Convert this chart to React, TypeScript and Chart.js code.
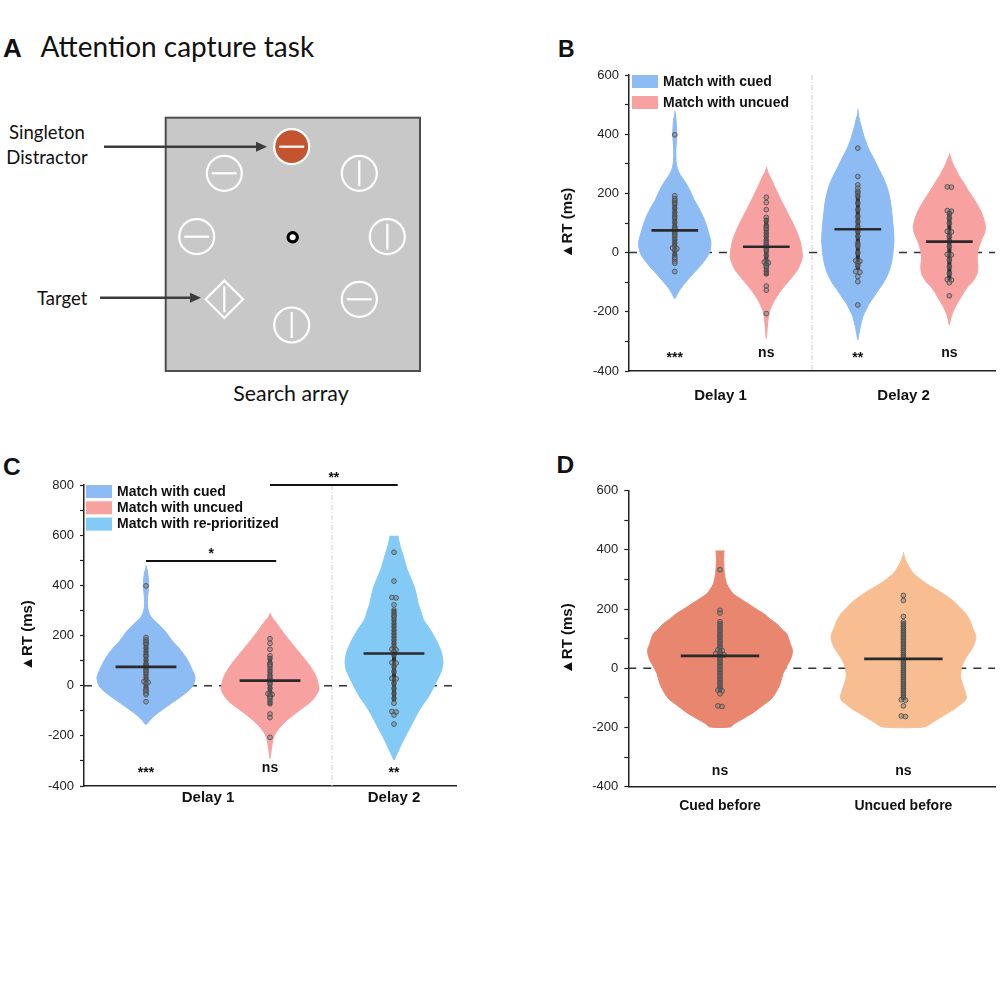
import React, { useEffect, useRef } from 'react';
import { Chart, registerables } from 'chart.js';

Chart.register(...registerables);

const FONT = "'Liberation Sans', Arial, 'DejaVu Sans', sans-serif";
const AXIS = '#222222';

// ---------------- data ----------------
const B_CATEGORIES = ['Delay 1', 'Delay 2'];
const C_CATEGORIES = ['Delay 1', 'Delay 2'];
const D_CATEGORIES = ['Cued before', 'Uncued before'];
const B_SERIES = ['Match with cued', 'Match with uncued'];
const C_SERIES = ['Match with cued', 'Match with uncued', 'Match with re-prioritized'];
const B_SIG = ['***', 'ns', '**', 'ns'];
const C_SIG = ['***', 'ns', '**'];
const D_SIG = ['ns', 'ns'];
const Y_TITLE = '\u25B2RT (ms)';

// C comparison brackets: [violin a, violin b, level (ms), label]
const C_BRACKETS: [number, number, number, string][] = [
  [0, 1, 497, '*'],
  [1, 2, 800, '**'],
];

// Delay 1, matched with cued
const CUED_D1_VALUES = [398, 192, 182, 176, 170, 163, 150, 136, 124, 116, 102, 88, 82, 77, 69, 62, 55, 45, 33, 22, 16, 13, 7, -8, -17, -22, -30, -36, -64];
const CUED_D1_SHAPE: [number, number][] = [[480, 0], [455, 0.03], [430, 0.045], [400, 0.055], [375, 0.045], [345, 0.03], [310, 0.035], [285, 0.07], [265, 0.14], [240, 0.28], [210, 0.42], [180, 0.53], [150, 0.67], [120, 0.79], [90, 0.88], [60, 0.95], [35, 1.0], [10, 0.98], [-10, 0.92], [-40, 0.74], [-70, 0.52], [-95, 0.34], [-120, 0.17], [-140, 0.07], [-155, 0]];
const CUED_D1_MEAN = 75;
const CUED_D1_RANGE: [number, number] = [-12, 178];

// Delay 1, matched with uncued
const UNCUED_D1_VALUES = [187, 169, 145, 119, 108, 91, 85, 77, 66, 55, 42, 34, 26, 20, 13, 5, -10, -28, -32, -35, -40, -45, -51, -62, -72, -113, -127, -206];
const UNCUED_D1_SHAPE: [number, number][] = [[290, 0], [270, 0.05], [250, 0.13], [212, 0.27], [167, 0.45], [122, 0.64], [77, 0.82], [32, 0.95], [0, 0.99], [-14, 1.0], [-35, 0.95], [-59, 0.86], [-93, 0.64], [-127, 0.41], [-160, 0.23], [-194, 0.1], [-220, 0.055], [-255, 0.025], [-290, 0]];
const UNCUED_D1_MEAN = 20;
const UNCUED_D1_RANGE: [number, number] = [-78, 118];

// Delay 2, matched with cued (B)
const CUED_D2_VALUES = [353, 257, 229, 218, 207, 201, 190, 167, 145, 122, 105, 88, 71, 55, 31, 22, -1, -27, -29, -36, -45, -64, -66, -81, -98, -177];
const CUED_D2_SHAPE: [number, number][] = [[485, 0], [460, 0.03], [437, 0.07], [410, 0.13], [381, 0.2], [350, 0.3], [325, 0.41], [295, 0.53], [268, 0.64], [240, 0.75], [212, 0.83], [180, 0.89], [156, 0.92], [99, 0.97], [43, 1.0], [-13, 0.96], [-45, 0.91], [-70, 0.84], [-100, 0.72], [-126, 0.57], [-150, 0.44], [-171, 0.32], [-195, 0.22], [-216, 0.14], [-250, 0.07], [-275, 0.03], [-295, 0]];
const CUED_D2_MEAN = 79;
const CUED_D2_RANGE: [number, number] = [-58, 210];

// Delay 2, matched with uncued (B)
const UNCUED_D2_VALUES = [221, 222, 142, 140, 131, 116, 99, 72, 70, 55, 38, 20, -6, -8, -25, -48, -70, -91, -93, -102, -146];
const UNCUED_D2_SHAPE: [number, number][] = [[336, 0], [320, 0.04], [302, 0.09], [280, 0.18], [257, 0.28], [235, 0.4], [212, 0.51], [190, 0.63], [167, 0.75], [145, 0.85], [122, 0.93], [100, 0.98], [88, 1.0], [70, 0.98], [54, 0.93], [37, 0.87], [20, 0.82], [-14, 0.77], [-48, 0.79], [-70, 0.77], [-81, 0.73], [-100, 0.63], [-115, 0.51], [-130, 0.42], [-149, 0.33], [-165, 0.25], [-182, 0.17], [-200, 0.1], [-216, 0.056], [-230, 0.025], [-245, 0]];
const UNCUED_D2_MEAN = 37;
const UNCUED_D2_RANGE: [number, number] = [-93, 142];

// Delay 2, matched with re-prioritized (C)
const REPRIO_VALUES = [532, 417, 352, 350, 322, 301, 290, 280, 274, 262, 248, 235, 221, 208, 195, 182, 168, 155, 145, 143, 136, 122, 92, 90, 76, 56, 29, 27, 9, -11, -31, -51, -70, -103, -105, -117, -153];
const REPRIO_SHAPE: [number, number][] = [[598, 0.08], [560, 0.12], [529, 0.17], [495, 0.22], [463, 0.27], [430, 0.34], [396, 0.41], [360, 0.46], [330, 0.49], [295, 0.55], [264, 0.6], [235, 0.7], [210, 0.78], [170, 0.89], [131, 0.97], [91, 1.0], [60, 0.97], [38, 0.92], [10, 0.85], [-17, 0.78], [-45, 0.7], [-70, 0.61], [-100, 0.51], [-136, 0.41], [-170, 0.32], [-203, 0.23], [-230, 0.16], [-256, 0.1], [-280, 0.04], [-296, 0]];
const REPRIO_MEAN = 128;
const REPRIO_RANGE: [number, number] = [-62, 305];

// D: cued before
const D_CUED_VALUES = [333, 196, 187, 157, 150, 143, 135, 128, 120, 112, 105, 98, 90, 83, 75, 68, 62, 60, 55, 50, 48, 45, 40, 35, 28, 20, 12, 5, -3, -10, -18, -25, -33, -40, -48, -55, -63, -70, -74, -76, -86, -127, -129];
const D_CUED_SHAPE: [number, number][] = [[398, 0.055], [365, 0.05], [320, 0.06], [286, 0.09], [265, 0.14], [252, 0.18], [235, 0.28], [218, 0.39], [200, 0.5], [185, 0.6], [165, 0.7], [151, 0.78], [130, 0.86], [117, 0.92], [83, 0.97], [60, 1.0], [35, 0.98], [15, 0.94], [-18, 0.87], [-52, 0.83], [-86, 0.76], [-105, 0.7], [-120, 0.62], [-137, 0.53], [-153, 0.44], [-170, 0.32], [-187, 0.2], [-198, 0.14]];
const D_CUED_MEAN = 42;
const D_CUED_RANGE: [number, number] = [-80, 157];

// D: uncued before
const D_UNCUED_VALUES = [246, 229, 175, 157, 150, 142, 135, 127, 120, 112, 105, 98, 90, 83, 75, 68, 60, 53, 45, 38, 30, 23, 15, 8, 0, -8, -15, -23, -30, -38, -45, -53, -60, -68, -75, -83, -90, -98, -106, -108, -127, -161, -163];
const D_UNCUED_SHAPE: [number, number][] = [[393, 0], [380, 0.01], [365, 0.03], [345, 0.07], [320, 0.14], [300, 0.24], [286, 0.32], [270, 0.43], [252, 0.55], [235, 0.65], [218, 0.73], [200, 0.8], [185, 0.86], [160, 0.92], [140, 0.95], [106, 1.0], [72, 0.96], [38, 0.87], [15, 0.82], [-1, 0.8], [-30, 0.79], [-63, 0.83], [-97, 0.87], [-110, 0.85], [-120, 0.8], [-137, 0.71], [-153, 0.6], [-168, 0.5], [-181, 0.41], [-198, 0.29]];
const D_UNCUED_MEAN = 32;
const D_UNCUED_RANGE: [number, number] = [-108, 157];

// ---------------- styles ----------------
const COL_CUED = '#8DBBF4';
const COL_UNCUED = '#F7A1A1';
const COL_REPRIO = '#83CAF6';
const COL_D_CUED = '#E8866F';
const COL_D_UNCUED = '#F8BE92';
const MAX_HALF = 0.395;

type Violin = { values: number[]; shape: [number, number][]; mean: number; range: [number, number]; color: string };
type Panel = {
  box: { left: number; top: number; width: number; height: number };
  padTop: number; padRight: number; yW: number; xH: number;
  xMax: number; yMin: number; yMax: number;
  violins: Violin[]; groups: number[][]; categories: string[];
  sig: string[]; sigY: number; dividers: boolean;
  legend: string[] | null; legendStep: number; legendDx: number;
  brackets: [number, number, number, string][];
  meanHalf: number; titlePad: number; xFont: number; xPad: number;
};

const PANEL_B: Panel = {
  box: { left: 540, top: 20, width: 460, height: 400 },
  padTop: 55, padRight: 2, yW: 89, xH: 49, xMax: 4, yMin: -400, yMax: 600,
  violins: [
    { values: CUED_D1_VALUES, shape: CUED_D1_SHAPE, mean: CUED_D1_MEAN, range: CUED_D1_RANGE, color: COL_CUED },
    { values: UNCUED_D1_VALUES, shape: UNCUED_D1_SHAPE, mean: UNCUED_D1_MEAN, range: UNCUED_D1_RANGE, color: COL_UNCUED },
    { values: CUED_D2_VALUES, shape: CUED_D2_SHAPE, mean: CUED_D2_MEAN, range: CUED_D2_RANGE, color: COL_CUED },
    { values: UNCUED_D2_VALUES, shape: UNCUED_D2_SHAPE, mean: UNCUED_D2_MEAN, range: UNCUED_D2_RANGE, color: COL_UNCUED },
  ],
  groups: [[0, 1], [2, 3]], categories: B_CATEGORIES,
  sig: B_SIG, sigY: -339, dividers: true,
  legend: B_SERIES, legendStep: 21, legendDx: 3, brackets: [],
  meanHalf: 0.255, titlePad: 18.5, xFont: 15, xPad: 16,
};

const PANEL_C: Panel = {
  box: { left: 0, top: 430, width: 470, height: 400 },
  padTop: 55, padRight: 14, yW: 84, xH: 44, xMax: 3, yMin: -400, yMax: 800,
  violins: [
    { values: CUED_D1_VALUES, shape: CUED_D1_SHAPE, mean: CUED_D1_MEAN, range: CUED_D1_RANGE, color: COL_CUED },
    { values: UNCUED_D1_VALUES, shape: UNCUED_D1_SHAPE, mean: UNCUED_D1_MEAN, range: UNCUED_D1_RANGE, color: COL_UNCUED },
    { values: REPRIO_VALUES, shape: REPRIO_SHAPE, mean: REPRIO_MEAN, range: REPRIO_RANGE, color: COL_REPRIO },
  ],
  groups: [[0, 1], [2]], categories: C_CATEGORIES,
  sig: C_SIG, sigY: -330, dividers: true,
  legend: C_SERIES, legendStep: 16.3, legendDx: 2, brackets: C_BRACKETS,
  meanHalf: 0.245, titlePad: 18.5, xFont: 15, xPad: 3.3,
};

const PANEL_D: Panel = {
  box: { left: 540, top: 430, width: 460, height: 400 },
  padTop: 60.7, padRight: 3.3, yW: 88.3, xH: 43.3, xMax: 2, yMin: -400, yMax: 600,
  violins: [
    { values: D_CUED_VALUES, shape: D_CUED_SHAPE, mean: D_CUED_MEAN, range: D_CUED_RANGE, color: COL_D_CUED },
    { values: D_UNCUED_VALUES, shape: D_UNCUED_SHAPE, mean: D_UNCUED_MEAN, range: D_UNCUED_RANGE, color: COL_D_UNCUED },
  ],
  groups: [[0], [1]], categories: D_CATEGORIES,
  sig: D_SIG, sigY: -347, dividers: false,
  legend: null, legendStep: 0, legendDx: 0, brackets: [],
  meanHalf: 0.214, titlePad: 19, xFont: 14, xPad: 10.9,
};

const LEGEND_COLORS_B = [COL_CUED, COL_UNCUED];
const LEGEND_COLORS_C = [COL_CUED, COL_UNCUED, COL_REPRIO];

// ---------------- helpers ----------------
function violinPolygon(center: number, shape: [number, number][]) {
  const pts = shape.map(([v, w]) => ({ x: center + w * MAX_HALF, y: v }));
  const rev = shape.slice().reverse();
  rev.forEach(([v, w], i) => {
    const bottomTip = i === 0 && w === 0;
    const topTip = i === rev.length - 1 && w === 0;
    if (!bottomTip && !topTip) pts.push({ x: center - w * MAX_HALF, y: v });
  });
  return pts;
}

function swarm(values: number[], center: number, step: number) {
  const sorted = [...values].sort((a, b) => b - a);
  const pts: { x: number; y: number }[] = [];
  let i = 0;
  while (i < sorted.length) {
    let j = i + 1;
    while (j < sorted.length && sorted[j - 1] - sorted[j] < 3.5) j++;
    const n = j - i;
    for (let k = 0; k < n; k++) pts.push({ x: center + (k - (n - 1) / 2) * step, y: sorted[i + k] });
    i = j;
  }
  return pts;
}

function textYOffset(label: string, size: number) {
  return label.includes('*') ? size * 0.62 : size * 0.27;
}

function makeDecor(p: Panel, legendColors: string[]) {
  return {
    id: 'decor',
    beforeDatasetsDraw(chart: any) {
      const { ctx, chartArea: a } = chart;
      const x = chart.scales.x;
      const y = chart.scales.y;
      ctx.save();
      if (p.dividers) {
        ctx.strokeStyle = '#cdcdcd';
        ctx.lineWidth = 1;
        ctx.setLineDash([5, 2, 1, 2]);
        for (let g = 0; g < p.groups.length - 1; g++) {
          const last = p.groups[g][p.groups[g].length - 1];
          const px = x.getPixelForValue(last + 1);
          ctx.beginPath();
          ctx.moveTo(px, a.top);
          ctx.lineTo(px, a.bottom);
          ctx.stroke();
        }
      }
      const py = y.getPixelForValue(0);
      ctx.strokeStyle = '#333';
      ctx.lineWidth = 1.5;
      ctx.setLineDash([8, 7]);
      ctx.beginPath();
      ctx.moveTo(a.left, py);
      ctx.lineTo(a.right, py);
      ctx.stroke();
      ctx.restore();
    },
    afterDraw(chart: any) {
      const { ctx, chartArea: a } = chart;
      const x = chart.scales.x;
      const y = chart.scales.y;
      ctx.save();
      ctx.fillStyle = '#111';
      ctx.font = `bold 14px ${FONT}`;
      ctx.textAlign = 'center';
      ctx.textBaseline = 'alphabetic';
      p.sig.forEach((s, i) => {
        ctx.fillText(s, x.getPixelForValue(i + 0.5), y.getPixelForValue(p.sigY) + textYOffset(s, 14));
      });
      p.brackets.forEach(([i0, i1, lvl, lab]) => {
        const x0 = x.getPixelForValue(i0 + 0.5);
        const x1 = x.getPixelForValue(i1 + 0.5 + (i1 === 1 ? 0.05 : 0.03));
        const py = y.getPixelForValue(lvl);
        ctx.strokeStyle = '#111';
        ctx.lineWidth = 1.8;
        ctx.beginPath();
        ctx.moveTo(x0, py);
        ctx.lineTo(x1, py);
        ctx.stroke();
        ctx.fillText(lab, (x0 + x1) / 2, py - 12 + textYOffset(lab, 14));
      });
      if (p.legend) {
        ctx.font = `bold 14px ${FONT}`;
        ctx.textAlign = 'left';
        ctx.textBaseline = 'middle';
        p.legend.forEach((lab, i) => {
          const rx = a.left + p.legendDx;
          const ry = a.top + i * p.legendStep;
          ctx.fillStyle = legendColors[i];
          ctx.fillRect(rx, ry, 26, 13);
          ctx.fillStyle = '#111';
          ctx.fillText(lab, rx + 31, ry + 7);
        });
      }
      ctx.restore();
    },
  };
}

function buildChart(canvas: HTMLCanvasElement, p: Panel, legendColors: string[]) {
  const plotW = p.box.width - p.padRight - p.yW;
  const pxPerUnit = plotW / p.xMax;
  const datasets: any[] = [];
  p.violins.forEach((v, i) => {
    const c = i + 0.5;
    datasets.push({
      type: 'line', data: violinPolygon(c, v.shape), fill: 'shape',
      backgroundColor: v.color, borderColor: v.color, borderWidth: 1,
      pointRadius: 0, tension: 0.3, order: 10,
    });
    datasets.push({
      type: 'line', data: [{ x: c, y: v.range[0] }, { x: c, y: v.range[1] }],
      borderColor: '#2e2e2e', borderWidth: 4, pointRadius: 0, fill: false, order: 5,
    });
    datasets.push({
      type: 'scatter', data: swarm(v.values, c, 4.2 / pxPerUnit),
      pointRadius: 2.4, backgroundColor: 'rgba(125,125,125,0.5)', borderColor: 'rgba(70,70,70,0.85)', borderWidth: 0.9, order: 2,
    });
    datasets.push({
      type: 'line', data: [{ x: c - p.meanHalf, y: v.mean }, { x: c + p.meanHalf, y: v.mean }],
      borderColor: '#2a2a2a', borderWidth: 2.6, pointRadius: 0, fill: false, order: 1,
    });
  });
  const tickPos = p.groups.map((g) => g.reduce((s, k) => s + k + 0.5, 0) / g.length);

  return new Chart(canvas, {
    type: 'scatter',
    data: { datasets },
    options: {
      animation: false,
      responsive: false,
      events: [],
      layout: { padding: { top: p.padTop, right: p.padRight, left: 0, bottom: 0 } },
      plugins: { legend: { display: false }, tooltip: { enabled: false } },
      scales: {
        x: {
          type: 'linear', min: 0, max: p.xMax,
          afterFit: (s: any) => { s.height = p.xH; },
          afterBuildTicks: (s: any) => { s.ticks = tickPos.map((v) => ({ value: v })); },
          grid: { display: false, drawTicks: false },
          border: { display: true, color: AXIS, width: 1.5 },
          ticks: {
            autoSkip: false, maxRotation: 0, padding: p.xPad, color: '#111',
            font: { family: FONT, size: p.xFont, weight: 'bold' },
            callback: (_v: any, i: number) => p.categories[i],
          },
        },
        y: {
          type: 'linear', min: p.yMin, max: p.yMax,
          afterFit: (s: any) => { s.width = p.yW; },
          grid: { drawOnChartArea: false, drawTicks: true, tickLength: 4, tickColor: AXIS, tickWidth: 1.2 },
          border: { display: true, color: AXIS, width: 1.5 },
          ticks: {
            stepSize: 100, autoSkip: false, padding: 6, color: '#222',
            font: { family: FONT, size: 13 },
            callback: (v: any) => (Number(v) % 200 === 0 ? String(v) : ''),
          },
          title: {
            display: true, text: Y_TITLE, color: '#111',
            font: { family: FONT, size: 15, weight: 'bold' },
            padding: { top: p.titlePad, bottom: 0 },
          },
        },
      },
    } as any,
    plugins: [makeDecor(p, legendColors)],
  });
}

// ---------------- panel A diagram ----------------
const ITEMS = [
  { x: 291.7, y: 146.7, o: 'h', s: 'c', f: '#C4532F' },
  { x: 224.3, y: 173.3, o: 'h', s: 'c', f: 'none' },
  { x: 359.3, y: 173.3, o: 'v', s: 'c', f: 'none' },
  { x: 196.7, y: 236.7, o: 'h', s: 'c', f: 'none' },
  { x: 387.3, y: 236.7, o: 'v', s: 'c', f: 'none' },
  { x: 224.3, y: 299.3, o: 'v', s: 'd', f: 'none' },
  { x: 359.3, y: 299.3, o: 'h', s: 'c', f: 'none' },
  { x: 291.7, y: 325, o: 'v', s: 'c', f: 'none' },
];

function PanelA() {
  const lato = "Lato, 'Open Sans', sans-serif";
  return (
    <svg width={1000} height={1000} style={{ position: 'absolute', left: 0, top: 0 }}>
      <text x={3} y={57.3} fontFamily={FONT} fontWeight="bold" fontSize={26} fill="#111">A</text>
      <text x={40.5} y={57.3} fontFamily={lato} fontSize={28} fill="#111">Attention capture task</text>
      <text x={47} y={139} textAnchor="middle" fontFamily={lato} fontSize={18.5} fill="#111">Singleton</text>
      <text x={47} y={164} textAnchor="middle" fontFamily={lato} fontSize={18.5} fill="#111">Distractor</text>
      <text x={87.3} y={304.5} textAnchor="end" fontFamily={lato} fontSize={18.5} fill="#111">Target</text>
      <rect x={165.7} y={117.7} width={254.3} height={253.3} fill="#C8C8C8" stroke="#4D4D4D" strokeWidth={2} />
      <line x1={104} y1={146.7} x2={258} y2={146.7} stroke="#3C3C3C" strokeWidth={2.5} />
      <polygon points="267,146.7 256,141.7 256,151.7" fill="#3C3C3C" />
      <line x1={100} y1={297.7} x2={192} y2={297.7} stroke="#3C3C3C" strokeWidth={2.5} />
      <polygon points="201,297.7 190,292.7 190,302.7" fill="#3C3C3C" />
      {ITEMS.map((it, i) => (
        <g key={i}>
          {it.s === 'c' ? (
            <circle cx={it.x} cy={it.y} r={17.5} fill={it.f} stroke="#FFFFFF" strokeWidth={2.2} />
          ) : (
            <polygon
              points={`${it.x},${it.y - 18.7} ${it.x + 18.7},${it.y} ${it.x},${it.y + 18.7} ${it.x - 18.7},${it.y}`}
              fill="none" stroke="#FFFFFF" strokeWidth={2.2}
            />
          )}
          {it.o === 'h' ? (
            <line x1={it.x - 12.5} y1={it.y} x2={it.x + 12.5} y2={it.y} stroke="#FFFFFF" strokeWidth={2.2} />
          ) : (
            <line x1={it.x} y1={it.y - 13} x2={it.x} y2={it.y + 13} stroke="#FFFFFF" strokeWidth={2.2} />
          )}
        </g>
      ))}
      <circle cx={292.7} cy={237.3} r={4.6} fill="#FFFFFF" stroke="#000000" strokeWidth={3.2} />
      <text x={291} y={401} textAnchor="middle" fontFamily={lato} fontSize={21.3} fill="#111">Search array</text>
      <text x={558} y={56.7} fontFamily={FONT} fontWeight="bold" fontSize={23} fill="#111">B</text>
      <text x={3} y={475} fontFamily={FONT} fontWeight="bold" fontSize={24.5} fill="#111">C</text>
      <text x={556.5} y={472.7} fontFamily={FONT} fontWeight="bold" fontSize={24.5} fill="#111">D</text>
    </svg>
  );
}

export default function App() {
  const bRef = useRef<HTMLCanvasElement>(null);
  const cRef = useRef<HTMLCanvasElement>(null);
  const dRef = useRef<HTMLCanvasElement>(null);

  useEffect(() => {
    const charts = [
      buildChart(bRef.current as HTMLCanvasElement, PANEL_B, LEGEND_COLORS_B),
      buildChart(cRef.current as HTMLCanvasElement, PANEL_C, LEGEND_COLORS_C),
      buildChart(dRef.current as HTMLCanvasElement, PANEL_D, []),
    ];
    return () => charts.forEach((c) => c.destroy());
  }, []);

  const cv = (p: Panel) => ({
    position: 'absolute' as const, left: p.box.left, top: p.box.top, width: p.box.width, height: p.box.height,
  });

  return (
    <div style={{ position: 'absolute', left: 0, top: 0, width: 1000, height: 1000, background: '#FFFFFF', overflow: 'hidden' }}>
      <PanelA />
      <canvas ref={bRef} width={PANEL_B.box.width} height={PANEL_B.box.height} style={cv(PANEL_B)} />
      <canvas ref={cRef} width={PANEL_C.box.width} height={PANEL_C.box.height} style={cv(PANEL_C)} />
      <canvas ref={dRef} width={PANEL_D.box.width} height={PANEL_D.box.height} style={cv(PANEL_D)} />
    </div>
  );
}
